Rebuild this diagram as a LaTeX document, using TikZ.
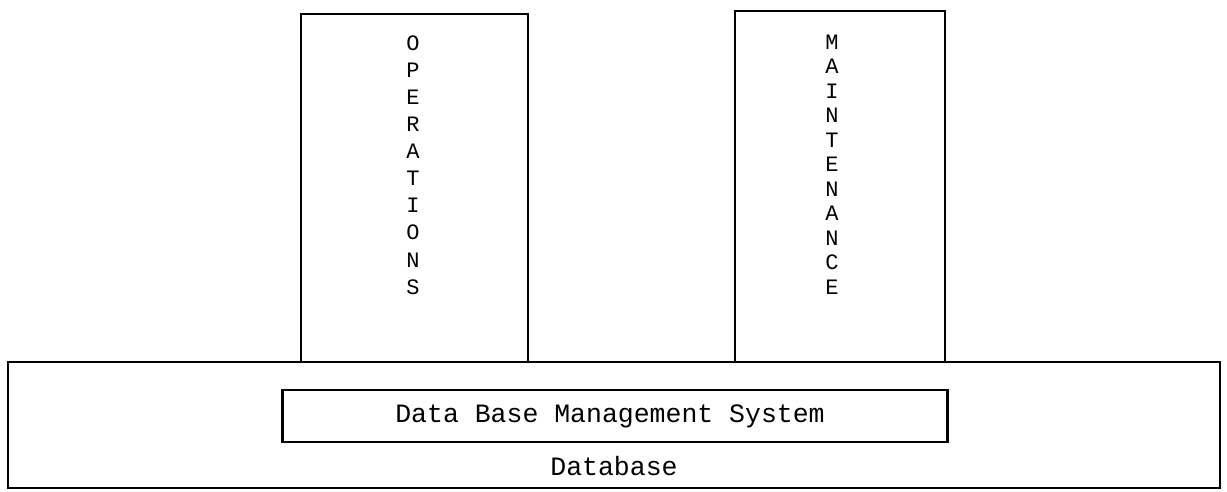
\documentclass[tikz,border=0pt]{standalone}
\usepackage{fontspec}
\setmonofont{Liberation Mono}
\usetikzlibrary{positioning}
\tikzset{
  frame/.style={draw, line width=2.2pt},
  letter/.style={font=\ttfamily\fontsize{22}{22}\selectfont, inner sep=0pt, anchor=center},
  boxtext/.style={font=\ttfamily\fontsize{26.5}{26.5}\selectfont, inner sep=0pt}
}
% one vertical column of letters: name, x, y of first letter, pitch, letters
\newcommand{\drawcolumn}[5]{
  \foreach \c [count=\i] in {#5} {
    \node[letter] (#1\i) at ({#2}, {#3+(\i-1)*#4}) {\c};
  }
}

\begin{document}
\begin{tikzpicture}[x=1pt,y=-1pt]
\useasboundingbox (0,0) rectangle (1227,491);

% the two tools on top of the database
\draw[frame] (301,14) rectangle (528,362);
\draw[frame] (735,11) rectangle (945,362);
\drawcolumn{ops}{413}{43}{27.1}{O,P,E,R,A,T,I,O,N,S}
\drawcolumn{mnt}{832}{42}{24.5}{M,A,I,N,T,E,N,A,N,C,E}

% database with the DBMS inside
\draw[frame] (8,362) rectangle (1220,488);
\node[frame, minimum width=665pt, minimum height=52pt, inner sep=0pt] (dbms) at (615,416) {};
\node[boxtext] (dbmstext) at (610,416) {Data Base Management System};
\node[boxtext] (db) at (614,466) {Database};
\end{tikzpicture}
\end{document}
